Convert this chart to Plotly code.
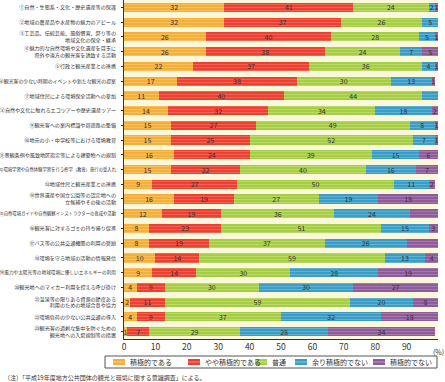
import plotly.graph_objects as go

categories = [
    "①自然・生態系・文化・歴史遺産等の保護",
    "②地域の農産品や水産物の魅力のアピール",
    "③工芸品、伝統芸能、風俗慣習、祭り等の<br>地域文化の保全・継承",
    "④魅力的な自然環境や文化遺産を目玉に<br>県外や遠方の観光客を誘致する活動",
    "⑤行政と観光産業との連携",
    "⑥観光客の少ない時期のイベントや新たな観光の提案",
    "⑦地域住民による環境保全活動への参加",
    "⑧自然や文化に触れるエコツアーや歴史遺産ツアー",
    "⑨観光客への案内標識や周遊路の整備",
    "⑩地元の小・中学校等における環境教育",
    "⑪景観条例や風致地区指定等による建築物への規制",
    "⑫環境学習や自然体験学習を行う修学（教育）旅行の受入れ",
    "⑬地域住民と観光産業との連携",
    "⑭世界遺産や国立公園等の認定地への<br>立候補やその後の活動",
    "⑮自然環境ガイドや自然観察インストラクターの育成や活動",
    "⑯観光客に対するゴミの持ち帰り促進",
    "⑰バス等の公共交通機関の利用の奨励",
    "⑱環境を守る地域の活動の情報発信",
    "⑲風力や太陽光等の地球環境に優しいエネルギーの利用",
    "⑳観光地へのマイカー利用を控える呼び掛け",
    "㉑温泉等の限りある資源の節度ある<br>利用のための地域合意や協力",
    "㉒環境負荷の少ない公共交通の導入",
    "㉓観光客の過剰な集中を防ぐための<br>観光地への入場規制等の措置",
]

series_names = ["積極的である", "やや積極的である", "普通", "余り積極的でない", "積極的でない"]

sekkyoku = [32, 32, 26, 26, 22, 17, 11, 14, 15, 15, 16, 15, 9, 16, 12, 8, 8, 10, 9, 4, 2, 4, 1]
yaya = [41, 37, 40, 38, 37, 38, 40, 32, 27, 25, 24, 22, 27, 19, 19, 23, 19, 14, 14, 9, 11, 9, 7]
futsu = [24, 26, 28, 24, 36, 30, 44, 34, 49, 52, 39, 40, 50, 27, 36, 51, 37, 59, 30, 30, 59, 37, 29]
amari = [2, 5, 5, 7, 4, 13, 6, 18, 8, 7, 15, 16, 11, 19, 24, 15, 26, 13, 28, 30, 20, 32, 28]
nai = [1, 0, 1, 5, 1, 1, 0, 2, 1, 1, 6, 7, 2, 19, 10, 3, 11, 4, 19, 27, 8, 18, 34]

x_ticks = [0, 10, 20, 30, 40, 50, 60, 70, 80, 90, 100]

series_values = [sekkyoku, yaya, futsu, amari, nai]
colors = ["#F4AE3A", "#EE3F33", "#A6CE45", "#3A9DC6", "#8E5C9A"]
light = ["#F9D27E", "#F5866F", "#CDE58C", "#86C6E0", "#B894C0"]

W, H = 445, 382
L, R, T, B = 124, 7, 0, 43
PW, PH = W - L - R, H - T - B

def px(x):
    return (x - L) / PW

def py(y):
    return (H - B - y) / PH

JP = "Noto Sans CJK JP"

# tick labels: shrink long labels so they fit the left margin
def fit_label(s):
    n = max(len(part) for part in s.split("<br>"))
    size = min(5.1, 117.0 / n)
    open_tag = '<span style="font-size:%.2fpx">' % size
    return open_tag + s.replace("<br>", "</span><br>" + open_tag) + "</span>"

ticktext = [fit_label(c) for c in categories]

fig = go.Figure()
for name, vals, c, lc in zip(series_names, series_values, colors, light):
    fig.add_trace(go.Bar(
        y=categories, x=vals, name=name, orientation="h",
        marker=dict(color=c, line=dict(width=0),
                    pattern=dict(shape="-", fgcolor=lc, bgcolor=c, size=3, solidity=0.35)),
        text=[str(v) if v > 0 else "" for v in vals],
        textposition="inside", insidetextanchor="middle", constraintext="none",
        textangle=0,
        textfont=dict(size=7, color="#333333", family=JP),
        cliponaxis=False,
        showlegend=False,
        hoverinfo="skip",
    ))

shapes = []
annotations = []
# custom legend box
shapes.append(dict(type="rect", xref="paper", yref="paper",
                   x0=px(105), x1=px(437), y0=py(368), y1=py(356),
                   line=dict(color="#555555", width=1), fillcolor="white"))
sw_x = [113, 188, 255, 295, 373]
for sx, c, lc, name in zip(sw_x, colors, light, series_names):
    shapes.append(dict(type="rect", xref="paper", yref="paper",
                       x0=px(sx), x1=px(sx + 12), y0=py(365), y1=py(359),
                       line=dict(width=0), fillcolor=c))
    shapes.append(dict(type="line", xref="paper", yref="paper",
                       x0=px(sx), x1=px(sx + 12), y0=py(362), y1=py(362),
                       line=dict(width=1, color=lc)))
    annotations.append(dict(xref="paper", yref="paper", x=px(sx + 15), y=py(362),
                            text=name, showarrow=False, xanchor="left", yanchor="middle",
                            font=dict(size=7, color="#333333", family=JP)))

annotations.append(dict(xref="paper", yref="paper", x=px(438), y=py(352),
                        text="(%)", showarrow=False, xanchor="center", yanchor="middle",
                        font=dict(size=7, color="#333333", family=JP)))
annotations.append(dict(xref="paper", yref="paper", x=px(2), y=py(377),
                        text="（注）「平成19年度地方公共団体の観光と環境に関する意識調査」による。",
                        showarrow=False, xanchor="left", yanchor="middle",
                        font=dict(size=6, color="#333333", family=JP)))

fig.update_layout(
    barmode="stack",
    bargap=0.38,
    width=W, height=H,
    margin=dict(l=L, r=R, t=T, b=B, pad=0, autoexpand=False),
    paper_bgcolor="white",
    plot_bgcolor="#FBF7DA",
    font=dict(family=JP, color="#333333"),
    shapes=shapes,
    annotations=annotations,
    xaxis=dict(range=[0, 100], tickvals=x_ticks, ticktext=[str(v) for v in x_ticks],
               showgrid=False, zeroline=False, showline=True, linecolor="#333333",
               linewidth=1, ticks="", tickfont=dict(size=8.5, color="#333333", family=JP),
               automargin=False, fixedrange=True),
    yaxis=dict(autorange="reversed", showgrid=False, showline=True, linecolor="#333333",
               linewidth=1, ticks="outside", ticklen=2, tickcolor="#333333",
               tickvals=categories, ticktext=ticktext,
               tickfont=dict(size=5, color="#333333", family=JP),
               ticklabelstandoff=4, automargin=False, fixedrange=True),
)

fig.write_html("out.html", config={"displayModeBar": False, "staticPlot": True},
               post_script="document.body.style.margin='0';document.body.style.padding='0';document.body.style.overflow='hidden';")
